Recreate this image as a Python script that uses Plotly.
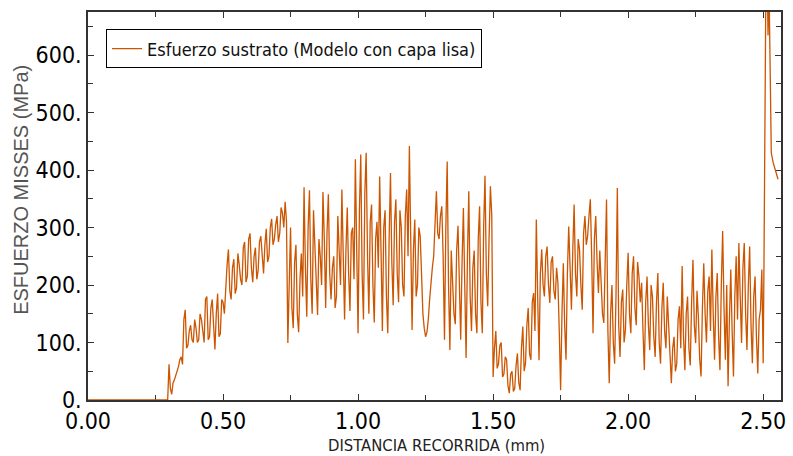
import plotly.graph_objects as go

# Distance grid (mm): samples every 0.005 mm starting at 0.29
grid_start = 0.29
grid_step = 0.005
stress_vals = [
    0, 0,                                                                                     # 0.29
    62, 20, 10, 30, 35, 42, 50, 58, 70, 75, 62, 140, 157, 90, 95, 120, 130, 105, 100, 140,    # 0.30
    125, 100, 105, 150, 140, 120, 100, 175, 180, 105, 110, 160, 175, 130, 88, 150, 185, 110, 115, 175,  # 0.40
    170, 150, 205, 235, 262, 190, 175, 230, 245, 185, 195, 255, 235, 210, 200, 265, 275, 205, 215, 280,  # 0.50
    290, 230, 205, 250, 265, 210, 225, 275, 285, 245, 220, 270, 298, 240, 250, 300, 315, 270, 280, 305,  # 0.60
    320, 275, 290, 335, 325, 300, 345, 310, 99, 200, 300, 160, 125, 240, 270, 150, 118, 210, 255, 180,   # 0.70
    370, 230, 145, 300, 365, 210, 150, 330, 270, 190, 148, 280, 250, 200, 362, 280, 160, 290, 358, 220,  # 0.80
    175, 230, 250, 160, 180, 320, 245, 200, 366, 250, 140, 260, 335, 220, 155, 290, 300, 210, 419, 260,  # 0.90
    116, 330, 427, 220, 140, 360, 430, 250, 150, 310, 340, 200, 135, 280, 310, 230, 389, 260, 120, 300,  # 1.00
    330, 180, 116, 280, 395, 240, 165, 310, 349, 220, 170, 330, 300, 200, 180, 320, 366, 250, 442, 280,  # 1.10
    122, 260, 314, 180, 200, 300, 285, 220, 150, 125, 110, 118, 140, 175, 209, 230, 250, 300, 363, 290,  # 1.20
    280, 320, 337, 250, 105, 300, 415, 200, 87, 260, 209, 150, 132, 260, 303, 180, 105, 240, 334, 200,   # 1.30
    73, 250, 363, 180, 120, 230, 260, 150, 116, 280, 337, 170, 116, 300, 390, 220, 163, 280, 372, 322,   # 1.40
    40, 90, 120, 55, 63, 95, 100, 40, 45, 75, 70, 25, 12, 45, 50, 15, 20, 60, 81, 30,                     # 1.50
    17, 90, 128, 50, 64, 130, 160, 80, 70, 170, 186, 120, 314, 180, 69, 220, 262, 200, 180, 250,          # 1.60
    267, 200, 169, 240, 250, 190, 175, 230, 204, 120, 17, 150, 238, 130, 70, 220, 302, 230, 157, 260,     # 1.70
    340, 220, 180, 280, 262, 200, 157, 290, 320, 270, 285, 320, 349, 250, 116, 280, 320, 240, 186, 260,   # 1.80
    215, 150, 134, 240, 349, 120, 29, 150, 200, 100, 63, 180, 369, 130, 75, 170, 192, 100, 122, 200,      # 1.90
    256, 150, 116, 220, 250, 160, 130, 240, 215, 170, 204, 120, 52, 170, 215, 130, 87, 200, 180, 110,     # 2.00
    75, 170, 221, 100, 63, 160, 204, 120, 90, 180, 130, 60, 29, 90, 110, 50, 63, 140, 163, 90,            # 2.10
    233, 110, 52, 150, 180, 90, 60, 170, 244, 130, 99, 190, 145, 70, 41, 160, 238, 150, 100, 190,         # 2.20
    215, 120, 262, 150, 70, 180, 221, 110, 52, 200, 294, 160, 70, 200, 24, 140, 227, 120, 41, 180,        # 2.30
    250, 140, 273, 180, 99, 230, 273, 150, 87, 200, 267, 130, 64, 180, 215, 110, 46, 140, 157, 227,       # 2.40
    64,                                                                                        # 2.50
]

# Start (flat) and final spike at the end of the path
start_x = [0.0]
start_y = [0]
tail_x = [2.503, 2.510, 2.516, 2.518, 2.522, 2.530, 2.537, 2.545, 2.555]
tail_y = [240, 720, 700, 634, 710, 430, 413, 400, 384]

grid_x = [round(grid_start + i * grid_step, 4) for i in range(len(stress_vals))]
xs = start_x + grid_x + tail_x
ys = start_y + stress_vals + tail_y

x_tickvals = [0.0, 0.5, 1.0, 1.5, 2.0, 2.5]
x_ticktext = ["0.00", "0.50", "1.00", "1.50", "2.00", "2.50"]
y_tickvals = [0, 100, 200, 300, 400, 500, 600]
y_ticktext = ["0.", "100.", "200.", "300.", "400.", "500.", "600."]

series_name = "Esfuerzo sustrato (Modelo con capa lisa)"
x_title = "DISTANCIA RECORRIDA (mm)"
y_title = "ESFUERZO MISSES (MPa)"

fig = go.Figure()
fig.add_trace(go.Scatter(
    x=xs, y=ys, mode="lines", name=series_name,
    line=dict(color="#CC5500", width=1.3),
))

cond = "DejaVu Sans Condensed, DejaVu Sans"
tick_font = dict(family=cond, size=23, color="#000")
axis_common = dict(
    showline=True, linecolor="#333", linewidth=1.5, mirror="ticks",
    ticks="inside", ticklen=6, tickwidth=1, tickcolor="#333",
    showgrid=False, zeroline=False, layer="below traces",
    tickfont=tick_font,
)
fig.update_xaxes(
    range=[0, 2.566], tickvals=x_tickvals, ticktext=x_ticktext,
    minor=dict(dtick=0.25, tick0=0, ticks="inside", ticklen=5, tickcolor="#333"),
    **axis_common,
)
fig.update_yaxes(
    range=[0, 675], tickvals=y_tickvals, ticktext=y_ticktext,
    minor=dict(dtick=50, tick0=0, ticks="inside", ticklen=5, tickcolor="#333"),
    **axis_common,
)

fig.add_annotation(
    text=x_title, xref="paper", yref="paper", x=0.343, y=-0.118,
    xanchor="left", yanchor="middle", showarrow=False,
    font=dict(family=cond, size=16.5, color="#222"),
)
fig.add_annotation(
    text=y_title, xref="paper", yref="paper", x=-0.097, y=0.541,
    xanchor="center", yanchor="middle", textangle=-90, showarrow=False,
    font=dict(family="Liberation Sans, Arial", size=20, color="#555"),
)

fig.update_layout(
    width=793, height=456,
    margin=dict(l=88, r=7, t=12, b=56),
    paper_bgcolor="white", plot_bgcolor="white",
    showlegend=True,
    legend=dict(
        x=0.026, y=0.955, xanchor="left", yanchor="top",
        bordercolor="#000", borderwidth=1, bgcolor="white",
        font=dict(family=cond, size=18, color="#111"),
    ),
)

fig.write_html("out.html")
